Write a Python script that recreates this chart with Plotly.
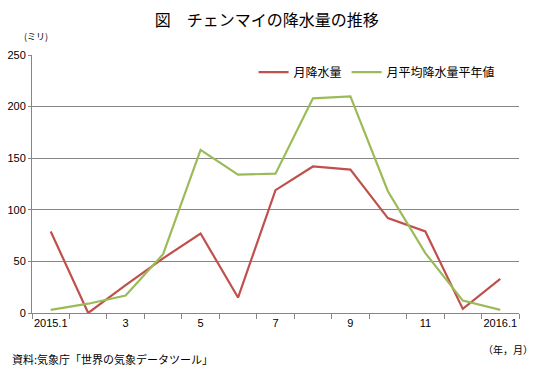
import plotly.graph_objects as go

months = ["2015.1", "2", "3", "4", "5", "6", "7", "8", "9", "10", "11", "12", "2016.1"]
tick_labels = ["2015.1", "", "3", "", "5", "", "7", "", "9", "", "11", "", "2016.1"]
rain = [79, 0, 27, 53, 77, 15, 119, 142, 139, 92, 79, 4, 33]
normal = [3, 9, 17, 57, 158, 134, 135, 208, 210, 118, 58, 12, 3]

red = "#C0504D"
green = "#9BBB59"
grid = "#868686"
jp = "Noto Sans CJK JP"
lat = "Liberation Sans"

fig = go.Figure()
fig.add_trace(go.Scatter(x=months, y=rain, mode="lines", name="月降水量",
                         line=dict(color=red, width=2.2)))
fig.add_trace(go.Scatter(x=months, y=normal, mode="lines", name="月平均降水量平年値",
                         line=dict(color=green, width=2.2)))

fig.update_layout(
    width=548, height=374,
    margin=dict(l=32, r=29, t=55, b=61, autoexpand=False),
    paper_bgcolor="white", plot_bgcolor="white",
    showlegend=True,
    legend=dict(orientation="h", x=0.455, y=0.99, xanchor="left", yanchor="top",
                font=dict(family=jp, size=12, color="black"),
                bgcolor="rgba(0,0,0,0)", itemwidth=30, tracegroupgap=0),
    title=dict(text="図　チェンマイの降水量の推移", x=0.487, xanchor="center",
               y=0.945, yanchor="middle",
               font=dict(family=jp, size=16, color="black")),
    xaxis=dict(type="category", tickmode="array", tickvals=months, ticktext=tick_labels,
               tickson="boundaries", ticks="outside", ticklen=5, tickcolor=grid,
               tickangle=0, automargin=False,
               showline=True, linecolor=grid, linewidth=1, showgrid=False,
               tickfont=dict(family=lat, size=11, color="black"), range=[-0.5, 12.5]),
    yaxis=dict(range=[0, 250], dtick=50, showgrid=True, gridcolor=grid, gridwidth=1,
               showline=True, linecolor=grid, linewidth=1, ticks="outside", ticklen=3,
               tickcolor=grid, zeroline=False, automargin=False,
               tickfont=dict(family=lat, size=11, color="black")),
)

fig.add_annotation(text="(ミリ)", xref="paper", yref="paper", x=-0.021, y=1.07,
                   xanchor="left", yanchor="middle", showarrow=False,
                   font=dict(family=jp, size=9, color="black"))
fig.add_annotation(text="（年，月）", xref="paper", yref="paper", x=1.032, y=-0.143,
                   xanchor="right", yanchor="middle", showarrow=False,
                   font=dict(family=jp, size=10, color="black"))
fig.add_annotation(text="資料:気象庁「世界の気象データツール」", xref="paper", yref="paper",
                   x=-0.046, y=-0.18, xanchor="left", yanchor="middle", showarrow=False,
                   font=dict(family=jp, size=11, color="black"))

fig.write_html("out.html", config={"displayModeBar": False},
               post_script="document.body.style.margin='0';document.body.style.overflow='hidden';")
